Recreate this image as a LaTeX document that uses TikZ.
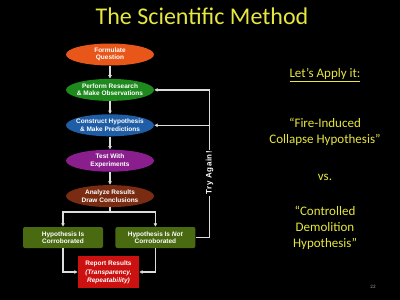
\documentclass[tikz,border=0pt]{standalone}
\usepackage{fontspec}
\setmainfont{Carlito}
\newfontfamily\boxfont{Liberation Sans}
\newfontfamily\againfont[LetterSpace=6]{Liberation Sans}
\usetikzlibrary{positioning, shapes.geometric, arrows.meta}
\definecolor{slideyellow}{HTML}{E6E640}
\definecolor{wiregray}{HTML}{DCDCDC}
\definecolor{askorange}{HTML}{E8561A}
\definecolor{probegreen}{HTML}{1E8A1E}
\definecolor{guessblue}{HTML}{1F5EA6}
\definecolor{testpurple}{HTML}{8A1E8C}
\definecolor{judgebrown}{HTML}{7A2C12}
\definecolor{verdictolive}{HTML}{4A6A12}
\definecolor{reportred}{HTML}{CC1111}

\begin{document}
\begin{tikzpicture}[
  x=1pt, y=-1pt,
  font=\boxfont\bfseries\fontsize{6.5}{7.5}\selectfont, text=white,
  stage/.style={
    ellipse, fill=#1, minimum width=88pt, minimum height=22pt,
    inner xsep=-7pt, inner ysep=0pt, align=center
  },
  verdict/.style={
    fill=#1, rounded corners=2pt, minimum width=80pt, minimum height=21pt,
    inner sep=1pt, align=center
  },
  wire/.style={draw=wiregray, line width=1.2pt},
  flow/.style={wire, -{Latex[length=3.5pt, width=4pt]}},
  slide/.style={text=slideyellow, font=\fontsize{13}{16}\selectfont, align=center}
]
\fill[black] (0,0) rectangle (400,300);

% headline and right-hand column
\node[slide, font=\fontsize{24}{26}\selectfont] (title) at (202,16) {The Scientific Method};
\node[slide] (apply) at (325,75) {\underline{Let’s Apply it:}};
\node[slide] (fire) at (325,132) {“Fire-Induced\\Collapse Hypothesis”};
\node[slide] (versus) at (325,177) {vs.};
\node[slide] (demo) at (325,228) {“Controlled\\Demolition\\Hypothesis”};
\node[text=gray!70, font=\fontsize{5}{6}\selectfont] (page) at (373,287) {22};

% the method
\node[stage=askorange] (formulate) at (110,54.5) {Formulate\\Question};
\node[stage=probegreen, below=13pt of formulate] (perform) {Perform Research\\\& Make Observations};
\node[stage=guessblue, below=13pt of perform] (construct) {Construct Hypothesis\\\& Make Predictions};
\node[stage=testpurple, below=13pt of construct] (test) {Test With\\Experiments};
\node[stage=judgebrown, below=13pt of test] (analyze) {Analyze Results\\Draw Conclusions};

\node[verdict=verdictolive] (hyes) at (63,237.5) {Hypothesis Is\\Corroborated};
\node[verdict=verdictolive, right=12pt of hyes] (hno) {Hypothesis Is \textit{Not}\\Corroborated};
\node[verdict=reportred, rounded corners=0pt, minimum width=61pt, minimum height=32pt]
  (report) at (108.5,272) {Report Results\\[2pt]\textit{(Transparency,}\\\textit{Repeatability)}};

\coordinate (split) at (110,212);
\coordinate[right=14pt of hno.east] (loopbot);
\coordinate (looptap) at (loopbot |- construct.east);

\draw[flow] (formulate) -- (perform);
\draw[flow] (perform) -- (construct);
\draw[flow] (construct) -- (test);
\draw[flow] (test) -- (analyze);
\draw[wire] (analyze) -- (split);
\draw[flow] (split) -| (hyes);
\draw[flow] (split) -| (hno);
\draw[flow] (hyes) |- (report);
\draw[flow] (hno) |- (report);

% loop back
\draw[flow] (hno.east) -- (loopbot) |-
  node[pos=0.22, rotate=90, fill=black, inner sep=1.5pt, font=\againfont\bfseries\fontsize{8}{8}\selectfont] (again) {Try Again!}
  (perform.east);
\draw[flow] (looptap) -- (construct.east);
\end{tikzpicture}
\end{document}
